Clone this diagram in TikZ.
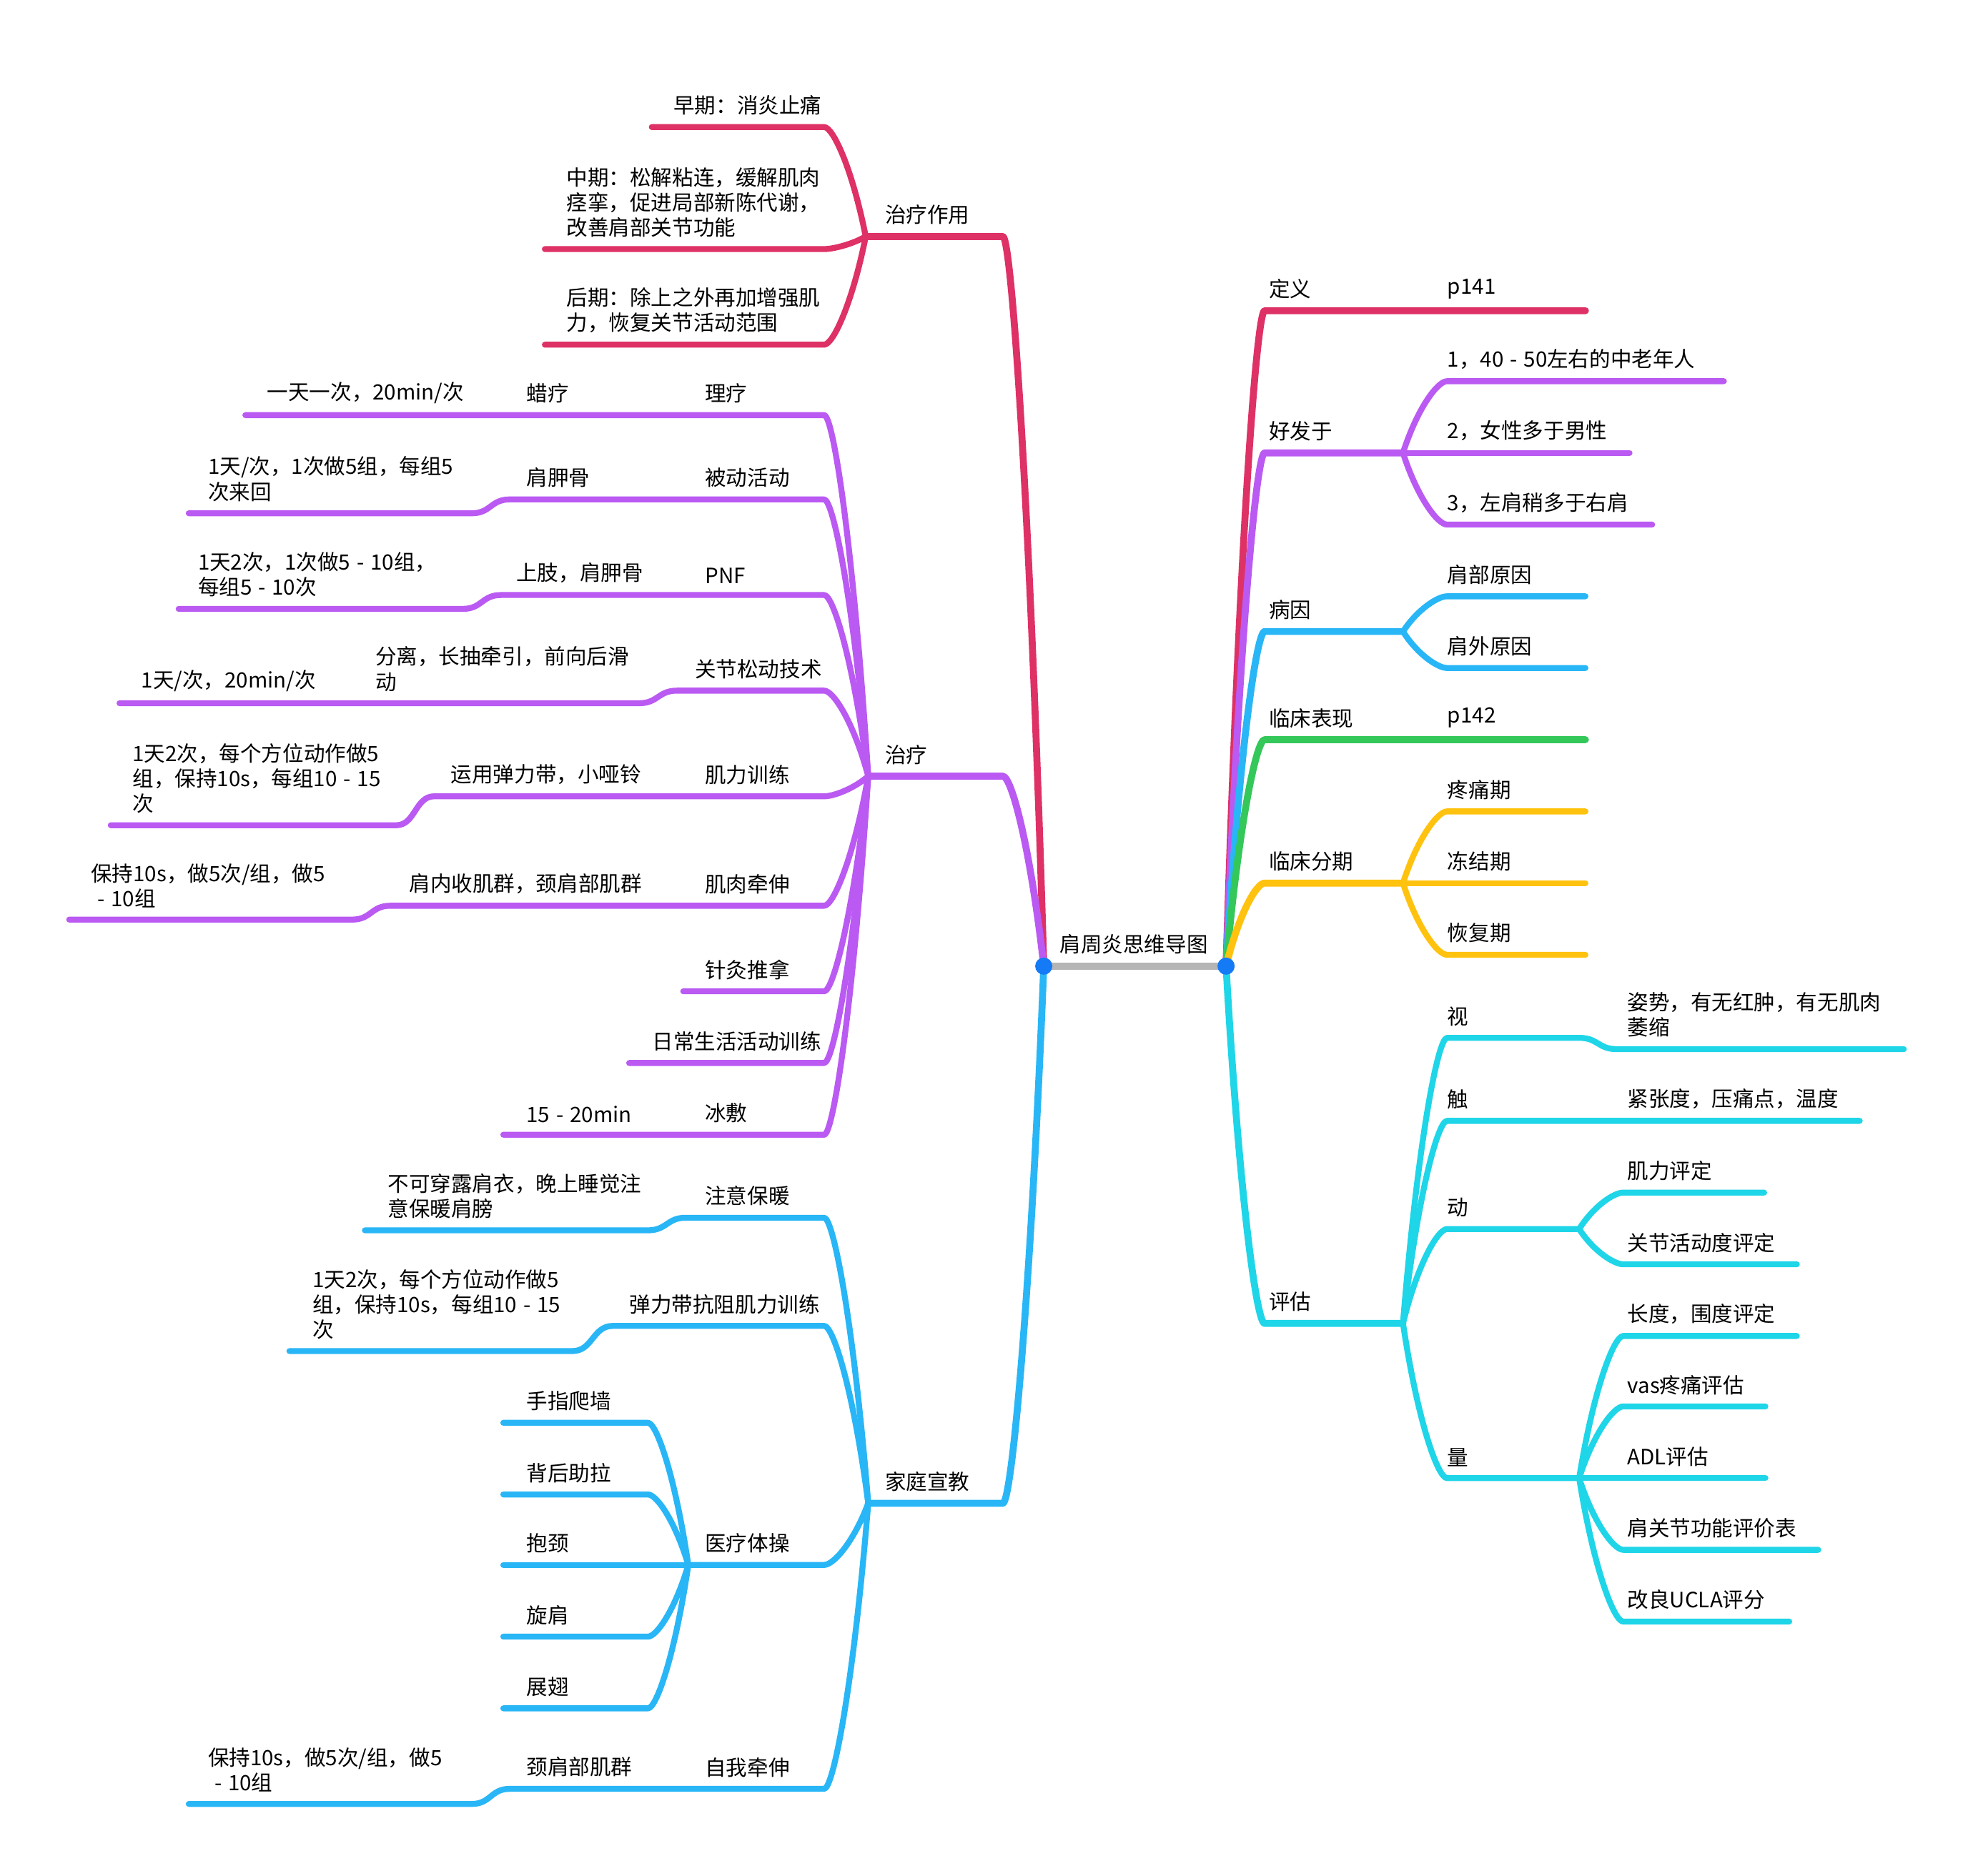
\documentclass[tikz,border=0pt]{standalone}
\usepackage{fontspec}
\setmainfont{Noto Sans CJK SC}
\usetikzlibrary{calc}
\definecolor{brred}{RGB}{222,49,102}
\definecolor{brpurple}{RGB}{186,90,242}
\definecolor{brblue}{RGB}{41,182,246}
\definecolor{brgreen}{RGB}{52,199,89}
\definecolor{bryellow}{RGB}{255,194,14}
\definecolor{brcyan}{RGB}{31,213,232}
\definecolor{rootblue}{RGB}{21,122,245}
\definecolor{rootgray}{RGB}{181,181,181}
\newcommand{\rng}{\hspace{0.3em}-\hspace{0.3em}}

\begin{document}
\begin{tikzpicture}[x=0.0176cm,y=-0.0176cm,
  every node/.style={font=\fontsize{8.4}{10}\selectfont},
  lbl/.style={anchor=south west, inner sep=0pt, align=left},
  main/.style={line width=0.097cm, line cap=round, line join=round},
  sub/.style={line width=0.083cm, line cap=round, line join=round},
  fanline/.style={to path={let \p1=(\tikztostart), \p2=(\tikztotarget) in
    .. controls ({\x1+0.33*(\x2-\x1)},{\y1+0.63*(\y2-\y1)}) and ({\x2-0.21*(\x2-\x1)},\y2) .. (\tikztotarget)}},
  jogline/.style={to path={let \p1=(\tikztostart), \p2=(\tikztotarget) in
    .. controls ({0.5*(\x1+\x2)},\y1) and ({0.5*(\x1+\x2)},\y2) .. (\tikztotarget)}}]
\useasboundingbox (0,0) rectangle (1568,1491);

% root
\coordinate (L) at (829.5,768);
\coordinate (R) at (974.4,768);
\node[lbl] (root) at (842,759) {肩周炎思维导图};

% ---- left: 治疗作用
\coordinate (zlzyA) at (797,188);
\coordinate (zlzyJ) at (688,188);
\draw[main, brred] (L) to[fanline] (zlzyA) -- (zlzyJ);
\node[lbl] (zlzy) at (703,179) {治疗作用};
\coordinate (zqA) at (655,101);
\coordinate (zqE) at (518,101);
\draw[sub, brred] (zlzyJ) to[fanline] (zqA) -- (zqE);
\node[lbl] (zq) at (535,92) {早期：消炎止痛};
\coordinate (zhqA) at (655,198);
\coordinate (zhqE) at (433,198);
\draw[sub, brred] (zlzyJ) to[fanline] (zhqA) -- (zhqE);
\node[lbl] (zhq) at (450,189) {中期：松解粘连，缓解肌肉\\痉挛，促进局部新陈代谢，\\改善肩部关节功能};
\coordinate (hqA) at (655,274);
\coordinate (hqE) at (433,274);
\draw[sub, brred] (zlzyJ) to[fanline] (hqA) -- (hqE);
\node[lbl] (hq) at (450,265) {后期：除上之外再加增强肌\\力，恢复关节活动范围};

% ---- left: 治疗
\coordinate (zlA) at (797,617);
\coordinate (zlJ) at (690,617);
\draw[main, brpurple] (L) to[fanline] (zlA) -- (zlJ);
\node[lbl] (zl) at (703,608) {治疗};

\coordinate (llA) at (655,330);
\coordinate (llE) at (195,330);
\draw[sub, brpurple] (zlJ) to[fanline] (llA) -- (llE);
\node[lbl] (ll) at (560,321) {理疗};
\node[lbl] (lal) at (418,321) {蜡疗};
\node[lbl] (lalt) at (212,321) {一天一次，20min/次};

\coordinate (bdA) at (655,397);
\coordinate (bdB) at (405,397);
\coordinate (bdC) at (375,408);
\coordinate (bdE) at (150,408);
\draw[sub, brpurple] (zlJ) to[fanline] (bdA) -- (bdB) to[jogline] (bdC) -- (bdE);
\node[lbl] (bd) at (560,388) {被动活动};
\node[lbl] (bdj) at (418,388) {肩胛骨};
\node[lbl] (bdt) at (165,399) {1天/次，1次做5组，每组5\\次来回};

\coordinate (pnfA) at (655,473);
\coordinate (pnfB) at (398,473);
\coordinate (pnfC) at (368,484);
\coordinate (pnfE) at (142,484);
\draw[sub, brpurple] (zlJ) to[fanline] (pnfA) -- (pnfB) to[jogline] (pnfC) -- (pnfE);
\node[lbl] (pnf) at (560,464) {PNF};
\node[lbl] (pnfj) at (410,464) {上肢，肩胛骨};
\node[lbl] (pnft) at (157,475) {1天2次，1次做5\rng10组，\\每组5\rng10次};

\coordinate (jsA) at (655,549);
\coordinate (jsB) at (538,549);
\coordinate (jsC) at (508,559);
\coordinate (jsE) at (95,559);
\draw[sub, brpurple] (zlJ) to[fanline] (jsA) -- (jsB) to[jogline] (jsC) -- (jsE);
\node[lbl] (js) at (552,540) {关节松动技术};
\node[lbl] (jsf) at (298,550) {分离，长抽牵引，前向后滑\\动};
\node[lbl] (jst) at (112,550) {1天/次，20min/次};

\coordinate (jlA) at (655,633);
\coordinate (jlB) at (345,633);
\coordinate (jlC) at (315,656);
\coordinate (jlE) at (88,656);
\draw[sub, brpurple] (zlJ) to[fanline] (jlA) -- (jlB) to[jogline] (jlC) -- (jlE);
\node[lbl] (jl) at (560,624) {肌力训练};
\node[lbl] (jly) at (358,624) {运用弹力带，小哑铃};
\node[lbl] (jlt) at (105,647) {1天2次，每个方位动作做5\\组，保持10s，每组10\rng15\\次};

\coordinate (jrA) at (655,720);
\coordinate (jrB) at (310,720);
\coordinate (jrC) at (280,731);
\coordinate (jrE) at (55,731);
\draw[sub, brpurple] (zlJ) to[fanline] (jrA) -- (jrB) to[jogline] (jrC) -- (jrE);
\node[lbl] (jr) at (560,711) {肌肉牵伸};
\node[lbl] (jrq) at (325,711) {肩内收肌群，颈肩部肌群};
\node[lbl] (jrt) at (72,722) {保持10s，做5次/组，做5\\\rng10组};

\coordinate (zjA) at (655,788);
\coordinate (zjE) at (543,788);
\draw[sub, brpurple] (zlJ) to[fanline] (zjA) -- (zjE);
\node[lbl] (zj) at (560,779) {针灸推拿};

\coordinate (rcA) at (655,845);
\coordinate (rcE) at (500,845);
\draw[sub, brpurple] (zlJ) to[fanline] (rcA) -- (rcE);
\node[lbl] (rc) at (518,836) {日常生活活动训练};

\coordinate (bfA) at (655,902);
\coordinate (bfE) at (400,902);
\draw[sub, brpurple] (zlJ) to[fanline] (bfA) -- (bfE);
\node[lbl] (bf) at (560,893) {冰敷};
\node[lbl] (bft) at (418,893) {15\rng20min};

% ---- left: 家庭宣教
\coordinate (jtA) at (797,1195);
\coordinate (jtJ) at (690,1195);
\draw[main, brblue] (L) to[fanline] (jtA) -- (jtJ);
\node[lbl] (jt) at (703,1186) {家庭宣教};

\coordinate (bnA) at (655,968);
\coordinate (bnB) at (545,968);
\coordinate (bnC) at (515,978);
\coordinate (bnE) at (290,978);
\draw[sub, brblue] (jtJ) to[fanline] (bnA) -- (bnB) to[jogline] (bnC) -- (bnE);
\node[lbl] (bn) at (560,959) {注意保暖};
\node[lbl] (bnt) at (308,969) {不可穿露肩衣，晚上睡觉注\\意保暖肩膀};

\coordinate (tlA) at (655,1054);
\coordinate (tlB) at (487,1054);
\coordinate (tlC) at (455,1074);
\coordinate (tlE) at (230,1074);
\draw[sub, brblue] (jtJ) to[fanline] (tlA) -- (tlB) to[jogline] (tlC) -- (tlE);
\node[lbl] (tl) at (500,1045) {弹力带抗阻肌力训练};
\node[lbl] (tlt) at (248,1065) {1天2次，每个方位动作做5\\组，保持10s，每组10\rng15\\次};

\coordinate (ylA) at (655,1244);
\coordinate (ylJ) at (547,1244);
\draw[sub, brblue] (jtJ) to[fanline] (ylA) -- (ylJ);
\node[lbl] (yl) at (560,1235) {医疗体操};
\coordinate (pqA) at (515,1131);
\coordinate (pqE) at (400,1131);
\draw[sub, brblue] (ylJ) to[fanline] (pqA) -- (pqE);
\node[lbl] (pq) at (418,1122) {手指爬墙};
\coordinate (zhlA) at (515,1188);
\coordinate (zhlE) at (400,1188);
\draw[sub, brblue] (ylJ) to[fanline] (zhlA) -- (zhlE);
\node[lbl] (zhl) at (418,1179) {背后助拉};
\coordinate (bjA) at (515,1244);
\coordinate (bjE) at (400,1244);
\draw[sub, brblue] (ylJ) to[fanline] (bjA) -- (bjE);
\node[lbl] (bj) at (418,1235) {抱颈};
\coordinate (xjA) at (515,1301);
\coordinate (xjE) at (400,1301);
\draw[sub, brblue] (ylJ) to[fanline] (xjA) -- (xjE);
\node[lbl] (xj) at (418,1292) {旋肩};
\coordinate (zcA) at (515,1358);
\coordinate (zcE) at (400,1358);
\draw[sub, brblue] (ylJ) to[fanline] (zcA) -- (zcE);
\node[lbl] (zc) at (418,1349) {展翅};

\coordinate (zwA) at (655,1422);
\coordinate (zwB) at (405,1422);
\coordinate (zwC) at (375,1434);
\coordinate (zwE) at (150,1434);
\draw[sub, brblue] (jtJ) to[fanline] (zwA) -- (zwB) to[jogline] (zwC) -- (zwE);
\node[lbl] (zw) at (560,1413) {自我牵伸};
\node[lbl] (zwq) at (418,1413) {颈肩部肌群};
\node[lbl] (zwt) at (165,1425) {保持10s，做5次/组，做5\\\rng10组};

% ---- right: 定义
\coordinate (dyA) at (1005,247);
\coordinate (dyE) at (1260,247);
\draw[main, brred] (R) to[fanline] (dyA) -- (dyE);
\node[lbl] (dy) at (1008,238) {定义};
\node[lbl] (dyp) at (1150,238) {p141};

% ---- right: 好发于
\coordinate (hfA) at (1005,360);
\coordinate (hfJ) at (1115,360);
\draw[main, brpurple] (R) to[fanline] (hfA) -- (hfJ);
\node[lbl] (hf) at (1008,351) {好发于};
\coordinate (hfaA) at (1150,303);
\coordinate (hfaE) at (1370,303);
\draw[sub, brpurple] (hfJ) to[fanline] (hfaA) -- (hfaE);
\node[lbl] (hfa) at (1150,294) {1，40\rng50左右的中老年人};
\coordinate (hfbA) at (1150,360);
\coordinate (hfbE) at (1295,360);
\draw[sub, brpurple] (hfJ) to[fanline] (hfbA) -- (hfbE);
\node[lbl] (hfb) at (1150,351) {2，女性多于男性};
\coordinate (hfcA) at (1150,417);
\coordinate (hfcE) at (1313,417);
\draw[sub, brpurple] (hfJ) to[fanline] (hfcA) -- (hfcE);
\node[lbl] (hfc) at (1150,408) {3，左肩稍多于右肩};

% ---- right: 病因
\coordinate (byA) at (1005,502);
\coordinate (byJ) at (1115,502);
\draw[main, brblue] (R) to[fanline] (byA) -- (byJ);
\node[lbl] (by) at (1008,493) {病因};
\coordinate (byaA) at (1150,474);
\coordinate (byaE) at (1260,474);
\draw[sub, brblue] (byJ) to[fanline] (byaA) -- (byaE);
\node[lbl] (bya) at (1150,465) {肩部原因};
\coordinate (bybA) at (1150,531);
\coordinate (bybE) at (1260,531);
\draw[sub, brblue] (byJ) to[fanline] (bybA) -- (bybE);
\node[lbl] (byb) at (1150,522) {肩外原因};

% ---- right: 临床表现
\coordinate (bxA) at (1005,588);
\coordinate (bxE) at (1260,588);
\draw[main, brgreen] (R) to[fanline] (bxA) -- (bxE);
\node[lbl] (bx) at (1008,579) {临床表现};
\node[lbl] (bxp) at (1150,579) {p142};

% ---- right: 临床分期
\coordinate (fqA) at (1005,702);
\coordinate (fqJ) at (1115,702);
\draw[main, bryellow] (R) to[fanline] (fqA) -- (fqJ);
\node[lbl] (fq) at (1008,693) {临床分期};
\coordinate (ttA) at (1150,645);
\coordinate (ttE) at (1260,645);
\draw[sub, bryellow] (fqJ) to[fanline] (ttA) -- (ttE);
\node[lbl] (tt) at (1150,636) {疼痛期};
\coordinate (djA) at (1150,702);
\coordinate (djE) at (1260,702);
\draw[sub, bryellow] (fqJ) to[fanline] (djA) -- (djE);
\node[lbl] (dj) at (1150,693) {冻结期};
\coordinate (hfuA) at (1150,759);
\coordinate (hfuE) at (1260,759);
\draw[sub, bryellow] (fqJ) to[fanline] (hfuA) -- (hfuE);
\node[lbl] (hfu) at (1150,750) {恢复期};

% ---- right: 评估
\coordinate (pgA) at (1005,1052);
\coordinate (pgJ) at (1115,1052);
\draw[main, brcyan] (R) to[fanline] (pgA) -- (pgJ);
\node[lbl] (pg) at (1008,1043) {评估};

\coordinate (shiA) at (1150,825);
\coordinate (shiB) at (1255,825);
\coordinate (shiC) at (1285,834);
\coordinate (shiE) at (1513,834);
\draw[sub, brcyan] (pgJ) to[fanline] (shiA) -- (shiB) to[jogline] (shiC) -- (shiE);
\node[lbl] (shi) at (1150,816) {视};
\node[lbl] (shit) at (1293,825) {姿势，有无红肿，有无肌肉\\萎缩};

\coordinate (chuA) at (1150,891);
\coordinate (chuE) at (1478,891);
\draw[sub, brcyan] (pgJ) to[fanline] (chuA) -- (chuE);
\node[lbl] (chu) at (1150,882) {触};
\node[lbl] (chut) at (1293,882) {紧张度，压痛点，温度};

\coordinate (dongA) at (1150,977);
\coordinate (dongJ) at (1255,977);
\draw[sub, brcyan] (pgJ) to[fanline] (dongA) -- (dongJ);
\node[lbl] (dong) at (1150,968) {动};
\coordinate (jlpA) at (1290,948);
\coordinate (jlpE) at (1402,948);
\draw[sub, brcyan] (dongJ) to[fanline] (jlpA) -- (jlpE);
\node[lbl] (jlp) at (1293,939) {肌力评定};
\coordinate (hdA) at (1290,1005);
\coordinate (hdE) at (1428,1005);
\draw[sub, brcyan] (dongJ) to[fanline] (hdA) -- (hdE);
\node[lbl] (hd) at (1293,996) {关节活动度评定};

\coordinate (liangA) at (1150,1175);
\coordinate (liangJ) at (1255,1175);
\draw[sub, brcyan] (pgJ) to[fanline] (liangA) -- (liangJ);
\node[lbl] (liang) at (1150,1166) {量};
\coordinate (cdA) at (1290,1062);
\coordinate (cdE) at (1428,1062);
\draw[sub, brcyan] (liangJ) to[fanline] (cdA) -- (cdE);
\node[lbl] (cd) at (1293,1053) {长度，围度评定};
\coordinate (vasA) at (1290,1118);
\coordinate (vasE) at (1403,1118);
\draw[sub, brcyan] (liangJ) to[fanline] (vasA) -- (vasE);
\node[lbl] (vas) at (1293,1109) {vas疼痛评估};
\coordinate (adlA) at (1290,1175);
\coordinate (adlE) at (1403,1175);
\draw[sub, brcyan] (liangJ) to[fanline] (adlA) -- (adlE);
\node[lbl] (adl) at (1293,1166) {ADL评估};
\coordinate (gnA) at (1290,1232);
\coordinate (gnE) at (1445,1232);
\draw[sub, brcyan] (liangJ) to[fanline] (gnA) -- (gnE);
\node[lbl] (gn) at (1293,1223) {肩关节功能评价表};
\coordinate (uclaA) at (1290,1289);
\coordinate (uclaE) at (1422,1289);
\draw[sub, brcyan] (liangJ) to[fanline] (uclaA) -- (uclaE);
\node[lbl] (ucla) at (1293,1280) {改良UCLA评分};

% root bar and dots on top
\draw[rootgray, line width=0.106cm] (L) -- (R);
\fill[rootblue] (L) circle[radius=0.12cm];
\fill[rootblue] (R) circle[radius=0.12cm];
\end{tikzpicture}
\end{document}
